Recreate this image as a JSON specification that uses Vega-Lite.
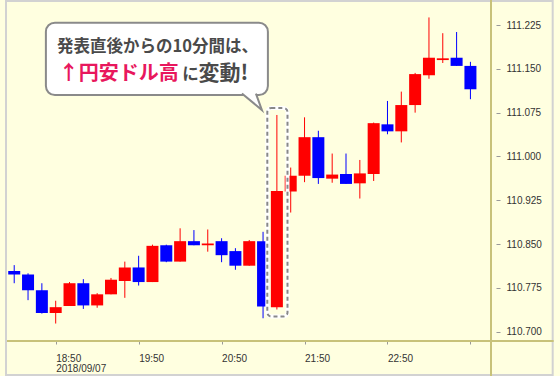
{
  "$schema": "https://vega.github.io/schema/vega-lite/v6.json",
  "width": 494,
  "height": 339,
  "autosize": {"type": "none"},
  "padding": {"left": 2, "top": 2, "right": 64, "bottom": 35},
  "config": {"background": "#ffffe0", "view": {"stroke": null}},
  "datasets": {
    "candles": [
      {"t": 1100, "open": 110.804, "high": 110.814, "low": 110.783, "close": 110.798},
      {"t": 1110, "open": 110.798, "high": 110.800, "low": 110.754, "close": 110.771},
      {"t": 1120, "open": 110.771, "high": 110.783, "low": 110.731, "close": 110.732},
      {"t": 1130, "open": 110.732, "high": 110.753, "low": 110.714, "close": 110.742},
      {"t": 1140, "open": 110.744, "high": 110.785, "low": 110.744, "close": 110.783},
      {"t": 1150, "open": 110.783, "high": 110.790, "low": 110.739, "close": 110.745},
      {"t": 1160, "open": 110.745, "high": 110.766, "low": 110.741, "close": 110.764},
      {"t": 1170, "open": 110.764, "high": 110.792, "low": 110.764, "close": 110.789},
      {"t": 1180, "open": 110.787, "high": 110.820, "low": 110.758, "close": 110.810},
      {"t": 1190, "open": 110.810, "high": 110.830, "low": 110.779, "close": 110.785},
      {"t": 1200, "open": 110.785, "high": 110.849, "low": 110.785, "close": 110.847},
      {"t": 1210, "open": 110.848, "high": 110.849, "low": 110.819, "close": 110.820},
      {"t": 1220, "open": 110.820, "high": 110.877, "low": 110.820, "close": 110.855},
      {"t": 1230, "open": 110.855, "high": 110.874, "low": 110.848, "close": 110.848},
      {"t": 1240, "open": 110.848, "high": 110.875, "low": 110.837, "close": 110.851},
      {"t": 1250, "open": 110.855, "high": 110.860, "low": 110.819, "close": 110.831},
      {"t": 1260, "open": 110.838, "high": 110.843, "low": 110.806, "close": 110.813},
      {"t": 1270, "open": 110.813, "high": 110.857, "low": 110.813, "close": 110.855},
      {"t": 1280, "open": 110.855, "high": 110.871, "low": 110.723, "close": 110.743},
      {"t": 1290, "open": 110.742, "high": 111.071, "low": 110.738, "close": 110.941},
      {"t": 1300, "open": 110.940, "high": 110.981, "low": 110.904, "close": 110.967},
      {"t": 1310, "open": 110.967, "high": 111.067, "low": 110.956, "close": 111.033},
      {"t": 1320, "open": 111.033, "high": 111.044, "low": 110.953, "close": 110.963},
      {"t": 1330, "open": 110.962, "high": 111.005, "low": 110.955, "close": 110.969},
      {"t": 1340, "open": 110.970, "high": 111.005, "low": 110.953, "close": 110.953},
      {"t": 1350, "open": 110.954, "high": 110.994, "low": 110.928, "close": 110.971},
      {"t": 1360, "open": 110.970, "high": 111.058, "low": 110.958, "close": 111.057},
      {"t": 1370, "open": 111.055, "high": 111.095, "low": 111.038, "close": 111.043},
      {"t": 1380, "open": 111.043, "high": 111.111, "low": 111.024, "close": 111.088},
      {"t": 1390, "open": 111.088, "high": 111.143, "low": 111.075, "close": 111.141},
      {"t": 1400, "open": 111.139, "high": 111.238, "low": 111.133, "close": 111.169},
      {"t": 1410, "open": 111.165, "high": 111.211, "low": 111.160, "close": 111.168},
      {"t": 1420, "open": 111.169, "high": 111.213, "low": 111.155, "close": 111.155},
      {"t": 1430, "open": 111.155, "high": 111.162, "low": 111.098, "close": 111.115}
    ]
  },
  "layer": [
    {
      "data": {"values": [{"x1": 1094.07, "x2": 1489.5, "y1": 111.2661, "y2": 110.6259}]},
      "mark": {"type": "rect", "fillOpacity": 0, "stroke": "#d2d2d2", "strokeWidth": 2},
      "encoding": {
        "x": {"field": "x1", "type": "quantitative", "scale": {"domain": [1094.78, 1444.88], "nice": false, "zero": false},
          "axis": {"values": [1130, 1190, 1250, 1310, 1370, 1430],
            "labelExpr": "datum.value == 1130 ? ['18:50', '2018/09/07'] : datum.value == 1190 ? '19:50' : datum.value == 1250 ? '20:50' : datum.value == 1310 ? '21:50' : datum.value == 1370 ? '22:50' : ''",
            "labelAlign": "left", "labelBaseline": "top", "labelPadding": 9, "tickSize": 3, "tickColor": "#999999",
            "domain": false, "grid": false, "title": null, "labelFont": "Liberation Sans", "labelFontSize": 10,
            "labelColor": "#333333", "labelLineHeight": 10, "labelFlush": false, "labelOverlap": false, "labelBound": false}},
        "x2": {"field": "x2"},
        "y": {"field": "y1", "type": "quantitative", "scale": {"domain": [110.6841, 111.2644], "nice": false, "zero": false},
          "axis": {"orient": "right", "values": [110.7, 110.775, 110.85, 110.925, 111.0, 111.075, 111.15, 111.225],
            "format": ".3f", "tickSize": 4, "tickColor": "#999999", "labelPadding": 6, "domain": false, "grid": false,
            "title": null, "labelFont": "Liberation Sans", "labelFontSize": 10, "labelColor": "#333333"}},
        "y2": {"field": "y2"}
      }
    },
    {
      "data": {"values": [
        {"x1": 1444.88, "x2": 1444.88, "y1": 111.2678, "y2": 110.6242},
        {"x1": 1094.78, "x2": 1490.2, "y1": 110.6841, "y2": 110.6841}
      ]},
      "mark": {"type": "rule", "color": "#c8c27a", "strokeWidth": 2},
      "encoding": {
        "x": {"field": "x1", "type": "quantitative", "axis": {"title": null}},
        "x2": {"field": "x2"},
        "y": {"field": "y1", "type": "quantitative", "axis": {"title": null}},
        "y2": {"field": "y2"}
      }
    },
    {
      "data": {"name": "candles"},
      "mark": {"type": "rule", "strokeWidth": 1},
      "encoding": {
        "x": {"field": "t", "type": "quantitative", "axis": {"title": null}},
        "y": {"field": "low", "type": "quantitative", "axis": {"title": null}},
        "y2": {"field": "high"},
        "color": {"condition": {"test": "datum.close > datum.open", "value": "#ff0000"}, "value": "#0000ff"}
      }
    },
    {
      "data": {"name": "candles"},
      "mark": {"type": "bar", "width": 12},
      "encoding": {
        "x": {"field": "t", "type": "quantitative", "axis": {"title": null}},
        "y": {"field": "open", "type": "quantitative", "axis": {"title": null}},
        "y2": {"field": "close"},
        "color": {"condition": {"test": "datum.close > datum.open", "value": "#ff0000"}, "value": "#0000ff"}
      }
    },
    {
      "data": {"values": [{"x1": 1283.08, "x2": 1297.68, "y1": 111.083, "y2": 110.726}]},
      "layer": [
        {"mark": {"type": "rect", "fillOpacity": 0, "stroke": "#ffffff", "strokeWidth": 4, "cornerRadius": 4}},
        {"mark": {"type": "rect", "fillOpacity": 0, "stroke": "#888888", "strokeWidth": 2, "strokeDash": [4, 3], "cornerRadius": 4}}
      ],
      "encoding": {
        "x": {"field": "x1", "type": "quantitative", "axis": {"title": null}},
        "x2": {"field": "x2"},
        "y": {"field": "y1", "type": "quantitative", "axis": {"title": null}},
        "y2": {"field": "y2"}
      }
    },
    {
      "data": {"values": [{"x1": 1122.91, "x2": 1283.5, "y1": 111.229, "y2": 111.105}]},
      "mark": {"type": "rect", "fill": "#ffffff", "stroke": "#8a8a8a", "strokeWidth": 2, "cornerRadius": 9},
      "encoding": {
        "x": {"field": "x1", "type": "quantitative", "axis": {"title": null}},
        "x2": {"field": "x2"},
        "y": {"field": "y1", "type": "quantitative", "axis": {"title": null}},
        "y2": {"field": "y2"}
      }
    },
    {
      "data": {"values": [{"x": 1271.95, "y": 111.094}]},
      "mark": {"type": "point", "shape": "M-1,-0.8 L1,0.85 L0.4,-0.8", "size": 400, "filled": true, "fill": "#ffffff", "stroke": "#8a8a8a", "strokeWidth": 2, "opacity": 1, "fillOpacity": 1, "strokeOpacity": 1},
      "encoding": {
        "x": {"field": "x", "type": "quantitative", "axis": {"title": null}},
        "y": {"field": "y", "type": "quantitative", "axis": {"title": null}}
      }
    },
    {
      "data": {"values": [{"x": 1203.6, "y": 111.178, "label": "発表直後からの10分間は、"}]},
      "mark": {"type": "text", "align": "center", "baseline": "alphabetic", "font": "Noto Sans CJK JP", "fontSize": 16.5, "fontWeight": "bold", "color": "#4a4a4a"},
      "encoding": {
        "x": {"field": "x", "type": "quantitative", "axis": {"title": null}},
        "y": {"field": "y", "type": "quantitative", "axis": {"title": null}},
        "text": {"field": "label"}
      }
    },
    {
      "data": {"values": [{"x": 1132.3, "y": 111.131, "label": "↑円安ドル高"}]},
      "mark": {"type": "text", "align": "left", "baseline": "alphabetic", "font": "Noto Sans CJK JP", "fontSize": 20, "fontWeight": "bold", "color": "#e8175d"},
      "encoding": {
        "x": {"field": "x", "type": "quantitative", "axis": {"title": null}},
        "y": {"field": "y", "type": "quantitative", "axis": {"title": null}},
        "text": {"field": "label"}
      }
    },
    {
      "data": {"values": [{"x": 1221.5, "y": 111.131, "label": "に"}]},
      "mark": {"type": "text", "align": "left", "baseline": "alphabetic", "font": "Noto Sans CJK JP", "fontSize": 16.5, "fontWeight": "bold", "color": "#4a4a4a"},
      "encoding": {
        "x": {"field": "x", "type": "quantitative", "axis": {"title": null}},
        "y": {"field": "y", "type": "quantitative", "axis": {"title": null}},
        "text": {"field": "label"}
      }
    },
    {
      "data": {"values": [{"x": 1233.3, "y": 111.131, "label": "変動!"}]},
      "mark": {"type": "text", "align": "left", "baseline": "alphabetic", "font": "Noto Sans CJK JP", "fontSize": 21, "fontWeight": "bold", "color": "#4a4a4a"},
      "encoding": {
        "x": {"field": "x", "type": "quantitative", "axis": {"title": null}},
        "y": {"field": "y", "type": "quantitative", "axis": {"title": null}},
        "text": {"field": "label"}
      }
    }
  ]
}
